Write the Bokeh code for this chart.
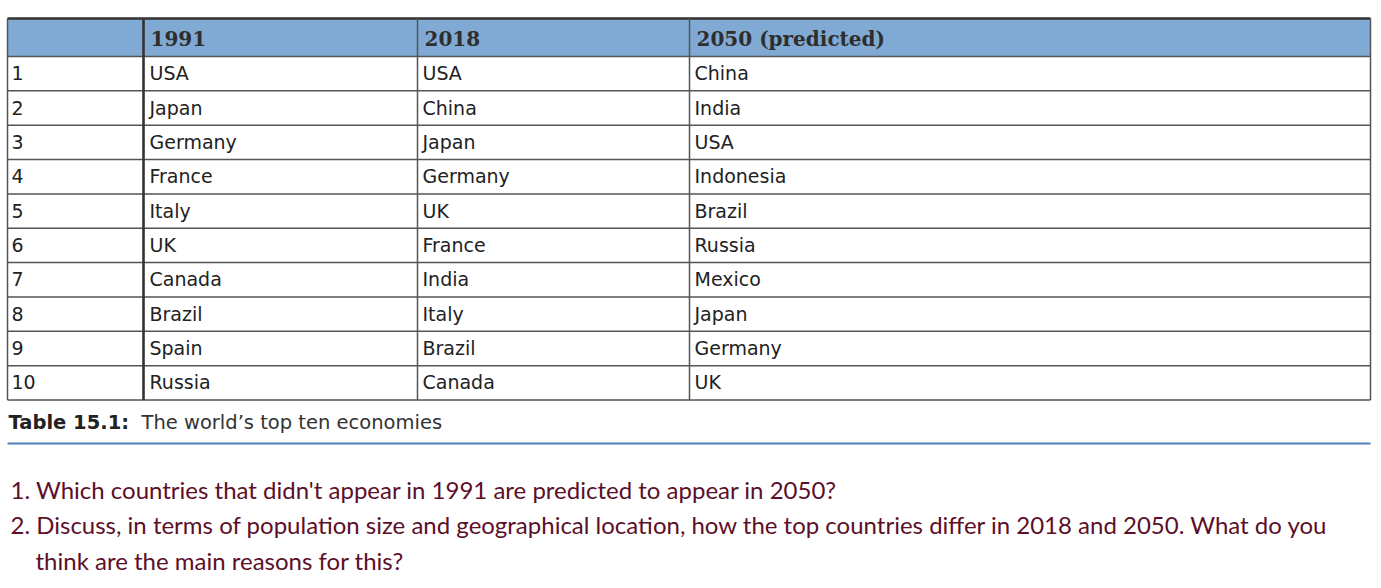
from bokeh.plotting import figure
from bokeh.embed import file_html
from bokeh.resources import INLINE
from bokeh.core.properties import value

# ---- data ----
headers = ["", "1991", "2018", "2050 (predicted)"]
ranks = ["1", "2", "3", "4", "5", "6", "7", "8", "9", "10"]
c1991 = ["USA", "Japan", "Germany", "France", "Italy", "UK", "Canada", "Brazil", "Spain", "Russia"]
c2018 = ["USA", "China", "Japan", "Germany", "UK", "France", "India", "Italy", "Brazil", "Canada"]
c2050 = ["China", "India", "USA", "Indonesia", "Brazil", "Russia", "Mexico", "Japan", "Germany", "UK"]
caption_bold = "Table 15.1:"
caption_text = "The world\u2019s top ten economies"
questions = [
    "1. Which countries that didn't appear in 1991 are predicted to appear in 2050?",
    "2. Discuss, in terms of population size and geographical location, how the top countries differ in 2018 and 2050. What do you",
    "think are the main reasons for this?",
]

# ---- layout ----
W, H = 1375, 582
p = figure(width=W, height=H, x_range=(0, W), y_range=(H, 0),
           output_backend="svg", toolbar_location=None, min_border=0)
p.axis.visible = False
p.grid.visible = False
p.outline_line_color = None
p.background_fill_color = "white"

col_x = [7, 143, 417, 689, 1370]
top, head_bot = 18, 56
step = 34.35
row_y = [head_bot + i * step for i in range(len(ranks) + 1)]
bottom = row_y[-1]

# header fill
p.quad(left=[col_x[0]], right=[col_x[-1]], top=[top], bottom=[head_bot],
       fill_color="#80a9d3", line_color=None)

# horizontal lines
hy = [head_bot] + row_y[1:]
p.segment(x0=[col_x[0]] * len(hy), x1=[col_x[-1]] * len(hy), y0=hy, y1=hy,
          line_color="#555555", line_width=1.5)
p.segment(x0=[col_x[0]], x1=[col_x[-1]], y0=[top], y1=[top], line_color="#333333", line_width=2.5)
# vertical lines
p.segment(x0=col_x, x1=col_x, y0=[top] * 5, y1=[bottom] * 5, line_color="#555555", line_width=1.5)
p.segment(x0=[col_x[1]], x1=[col_x[1]], y0=[top], y1=[bottom], line_color="#333333", line_width=2.5)

# header text
p.text(x=[c + 7 for c in col_x[1:4]], y=[(top + head_bot) / 2 + 1] * 3, text=headers[1:],
       text_font=value("DejaVu Serif"), text_font_style="bold", text_font_size="20px",
       text_color="#2e2e2e", text_baseline="middle", text_align="left")

# body text
cy = [(row_y[i] + row_y[i + 1]) / 2 - 0.5 for i in range(len(ranks))]
for cx, col in zip([col_x[0] + 4, col_x[1] + 6, col_x[2] + 5, col_x[3] + 5], [ranks, c1991, c2018, c2050]):
    p.text(x=[cx] * len(col), y=cy, text=col, text_font=value("DejaVu Sans"), text_font_size="19px",
           text_color="#222222", text_baseline="middle", text_align="left")

# caption
p.text(x=[8], y=[422], text=[caption_bold], text_font=value("DejaVu Sans"), text_font_style="bold",
       text_font_size="19.5px", text_color="#222222", text_baseline="middle")
p.text(x=[141], y=[422], text=[caption_text], text_font=value("DejaVu Sans"),
       text_font_size="19.5px", text_color="#333333", text_baseline="middle")
p.segment(x0=[7], x1=[1370], y0=[443], y1=[443], line_color="#4e7fb9", line_width=2)

# questions
p.text(x=[10, 10, 35], y=[488.5, 523.5, 559.5], text=questions, text_font=value("Lato"),
       text_font_size="24px", text_color="#5c0f28", text_baseline="middle")

open("out.html", "w").write(file_html(p, INLINE))
